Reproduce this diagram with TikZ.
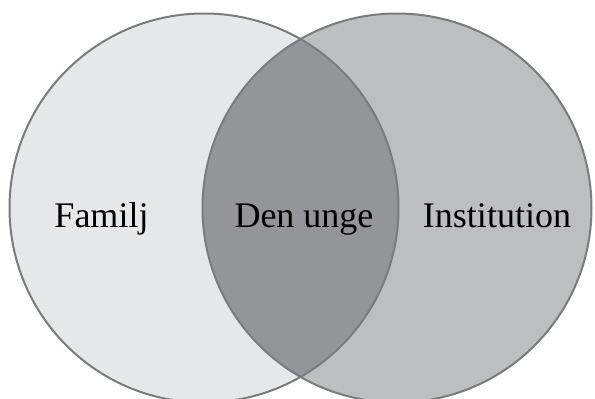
\documentclass[tikz,border=0pt]{standalone}
\usepackage{fontspec}
\setmainfont{Liberation Serif}
\definecolor{leftfill}{HTML}{E6E7E8}
\definecolor{rightfill}{HTML}{BCBEC0}
\definecolor{midfill}{HTML}{939598}
\definecolor{edge}{HTML}{7A7B7E}
\tikzset{
  ring/.style={draw=edge, line width=2pt},
  lbl/.style={anchor=base, font=\fontsize{36}{40}\selectfont, text=black, inner sep=0pt}
}
\begin{document}
\begin{tikzpicture}[x=1pt,y=-1pt]
\useasboundingbox (0,0) rectangle (595,399);
\coordinate (cl) at (204,208);
\coordinate (cr) at (397,208);
\fill[leftfill] (cl) circle[radius=194.5];
\fill[rightfill] (cr) circle[radius=194.5];
\begin{scope}
  \clip (cl) circle[radius=194.5];
  \fill[midfill] (cr) circle[radius=194.5];
\end{scope}
\draw[ring] (cl) circle[radius=194.5];
\draw[ring] (cr) circle[radius=194.5];
\node[lbl] (fam) at (101.5,227) {Familj};
\node[lbl] (den) at (304,227) {Den unge};
\node[lbl] (inst) at (497,227) {Institution};
\end{tikzpicture}
\end{document}
